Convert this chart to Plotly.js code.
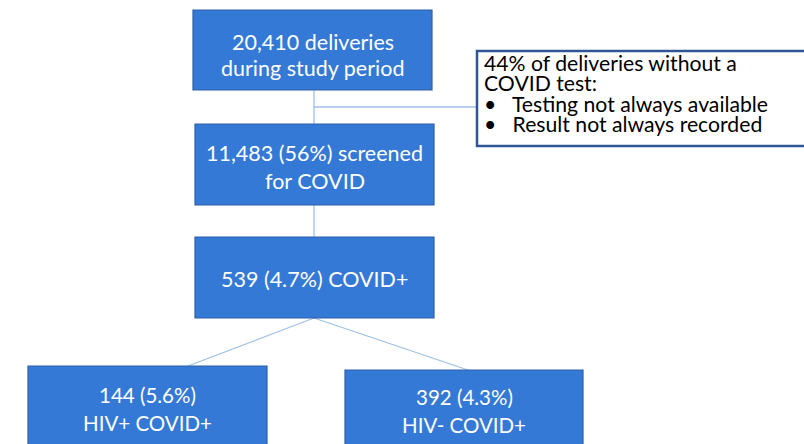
<!DOCTYPE html>
<html>
<head>
<meta charset="utf-8">
<script src="https://cdn.plot.ly/plotly-3.0.1.min.js"></script>
<style>html,body{margin:0;padding:0;background:#fff;}#chart{width:804px;height:444px;}</style>
</head>
<body>
<div id="chart"></div>
<script>
// Flowchart data
const nodeLabels = [
  ["20,410 deliveries", "during study period"],
  ["11,483 (56%) screened", "for COVID"],
  ["539 (4.7%) COVID+"],
  ["144 (5.6%)", "HIV+ COVID+"],
  ["392 (4.3%)", "HIV- COVID+"]
];
const noteTitle = ["44% of deliveries without a", "COVID test:"];
const noteBullets = ["Testing not always available", "Result not always recorded"];
// edges: [from, to]
const edges = [[0,1],[1,2],[2,3],[2,4]];

// Layout geometry (pixels)
const boxX0 = [193, 195, 195, 28, 345];
const boxX1 = [432, 434, 434, 267, 583];
const boxY0 = [10, 124, 237, 366, 370];
const boxY1 = [90, 205, 318, 460, 460];
const textLineY = [[42, 68], [153, 181], [279], [395, 423], [397, 425]];
const edgeFrom = [[314,90],[314,205],[314,318],[314,318]];
const edgeTo = [[314,124],[314,237],[188,366],[468,370]];
const noteBox = [477, 51, 810, 146];

const FONT = "Lato, 'Open Sans', sans-serif";
const fill = "#3579d6", border = "#2d5fa6", lineCol = "#9fc1e6";
const shapes = [], annotations = [];
edges.forEach((e, i) => {
  shapes.push({type:"line", xref:"x", yref:"y", x0:edgeFrom[i][0], y0:edgeFrom[i][1], x1:edgeTo[i][0], y1:edgeTo[i][1], line:{color:lineCol, width:1.3}});
});
shapes.push({type:"line", xref:"x", yref:"y", x0:314, y0:107, x1:noteBox[0], y1:107, line:{color:lineCol, width:1.3}});
nodeLabels.forEach((t, i) => {
  shapes.push({type:"rect", xref:"x", yref:"y", x0:boxX0[i], x1:boxX1[i], y0:boxY0[i], y1:boxY1[i], fillcolor:fill, line:{color:border, width:1.2}});
});
shapes.push({type:"rect", xref:"x", yref:"y", x0:noteBox[0], y0:noteBox[1], x1:noteBox[2], y1:noteBox[3], fillcolor:"#ffffff", line:{color:"#2f5597", width:2.5}});

nodeLabels.forEach((lines, i) => {
  lines.forEach((t, j) => {
    annotations.push({xref:"x", yref:"y", x:(boxX0[i]+boxX1[i])/2, y:textLineY[i][j], text:t, showarrow:false, xanchor:"center", yanchor:"middle", font:{family:FONT, size:i>=3?20.5:21.5, color:"#ffffff"}});
  });
});
// Note text as one annotation with tight line spacing (small base font, larger spans)
const big = s => '<span style="font-size:21.2px">' + s + '</span>';
const NB = '&nbsp;';
const noteLines = noteTitle.map(big).concat(noteBullets.map(b => big('•' + NB.repeat(3) + b)));
annotations.push({xref:"x", yref:"y", x:483, y:93, text:noteLines.join('<br>'), showarrow:false, xanchor:"left", yanchor:"middle", align:"left", borderpad:0, font:{family:FONT, size:15.6, color:"#000000"}});

const layout = {
  width:804, height:444, margin:{l:0,r:0,t:0,b:0},
  paper_bgcolor:"#ffffff", plot_bgcolor:"#ffffff",
  xaxis:{range:[0,804], visible:false, fixedrange:true},
  yaxis:{range:[444,0], visible:false, fixedrange:true},
  shapes, annotations, showlegend:false
};
Plotly.newPlot("chart", [{x:[], y:[], type:"scatter", mode:"markers"}], layout, {staticPlot:true, displayModeBar:false});
</script>
</body>
</html>
